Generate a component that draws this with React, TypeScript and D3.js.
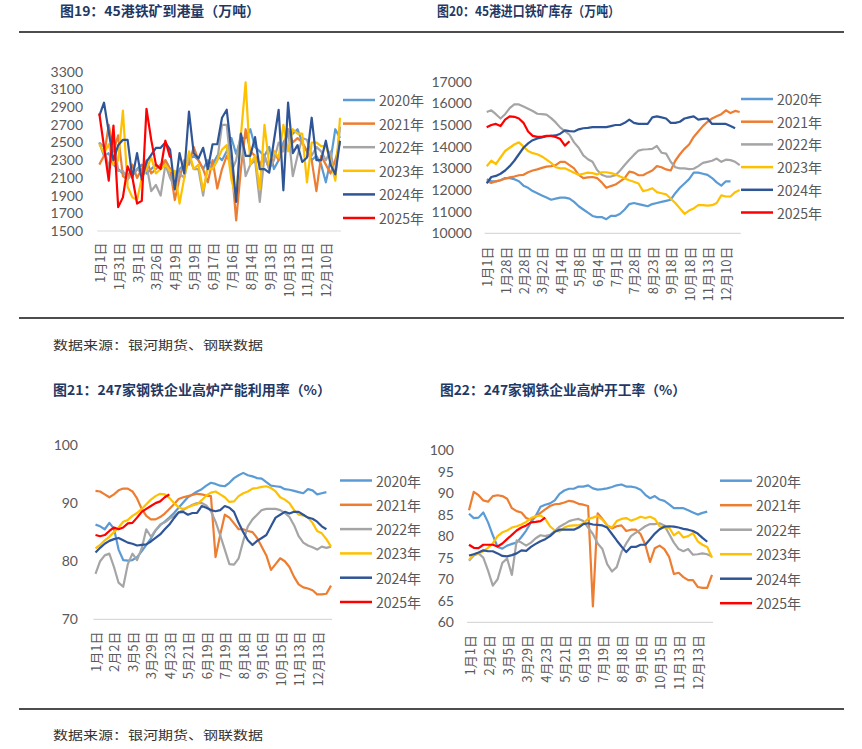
import React, { useRef, useEffect } from "react";
import * as d3 from "d3";

const FONT = "'Noto Sans CJK SC', 'Noto Sans', sans-serif";
const NUM_FONT = "Lato, 'Liberation Sans', sans-serif";

const years = ["2020年", "2021年", "2022年", "2023年", "2024年", "2025年"];
const yearColors = ["#5b9bd5", "#ed7d31", "#a5a5a5", "#ffc000", "#2f5597", "#ff0000"];

// 图19 45港铁矿到港量（万吨）
const arrivalTicks = ["1月1日", "1月31日", "3月1日", "3月26日", "4月19日", "5月19日", "6月17日", "7月16日", "8月14日", "9月13日", "10月13日", "11月11日", "12月10日"];
const arrivalYTicks = [1500, 1700, 1900, 2100, 2300, 2500, 2700, 2900, 3100, 3300];
const arrival2020 = [2500, 2350, 2380, 2250, 2200, 2150, 2150, 2120, 2200, 2250, 2150, 2200, 2250, 2200, 2300, 2200, 2000, 2200, 2250, 2300, 2350, 2300, 2200, 2300, 2250, 2350, 2300, 2400, 2550, 2370, 2550, 2550, 2650, 2450, 2400, 2350, 2450, 2200, 2300, 2500, 2600, 2600, 2650, 2500, 2400, 2300, 2350, 2250, 2050, 2300, 2650, 2550];
const arrival2021 = [2250, 2350, 2700, 2400, 2580, 2120, 2080, 2250, 2100, 2200, 2300, 2150, 2200, 2250, 2300, 2200, 1850, 2100, 2300, 2250, 2450, 2300, 2200, 2050, 2300, 1980, 2200, 2350, 2250, 1620, 2200, 2650, 2400, 2350, 2250, 2350, 2200, 2400, 2300, 2450, 2650, 2500, 2550, 2500, 2400, 2300, 1950, 2350, 2250, 2150, 2300, 2500];
const arrival2022 = [2500, 2450, 2200, 2580, 2180, 2180, 2080, 2150, 2200, 2150, 2250, 1950, 2020, 1900, 2250, 2100, 2000, 2150, 2100, 2350, 2200, 2200, 1900, 2250, 2200, 2300, 2700, 2700, 2170, 2300, 2600, 2120, 2250, 2300, 1830, 2350, 2200, 2300, 2500, 2400, 2650, 2120, 2350, 2550, 2530, 2350, 2450, 2400, 2300, 2400, 2100, 2680];
const arrival2023 = [2480, 2380, 2480, 2250, 2300, 2860, 2000, 1880, 1850, 2100, 2200, 2330, 2150, 2200, 2250, 2180, 2180, 1810, 2100, 2400, 2200, 2250, 1960, 2200, 2200, 2300, 2420, 2470, 2080, 1870, 2580, 3180, 2250, 2350, 1970, 2700, 2250, 2400, 2330, 2700, 2400, 2650, 2600, 2600, 2050, 2500, 2500, 2460, 2460, 2300, 2070, 2780];
const arrival2024 = [2800, 2950, 2620, 2300, 2470, 2530, 2530, 2100, 2380, 2080, 2280, 2360, 2440, 2440, 2500, 2420, 1970, 2380, 2150, 2850, 2380, 2320, 2440, 2200, 2480, 2480, 2780, 2870, 2400, 1830, 2600, 2350, 2350, 2560, 2200, 2200, 2160, 2520, 2870, 1960, 2950, 2380, 2470, 2280, 2330, 2780, 2300, 2300, 2520, 2250, 2140, 2520];
const arrival2025 = [2830, 2450, 2070, 2690, 1770, 1880, 2230, 2110, 1810, 1840, 2880, 2530, 2250, 2200, 2520, 2330];

// 图20 45港进口铁矿库存（万吨）
const stockTicks = ["1月1日", "1月28日", "2月28日", "3月22日", "4月14日", "5月8日", "6月4日", "7月1日", "7月28日", "8月23日", "9月18日", "10月18日", "11月13日", "12月10日"];
const stockYTicks = [10000, 11000, 12000, 13000, 14000, 15000, 16000, 17000];
const stock2020 = [12500, 12400, 12400, 12450, 12550, 12550, 12500, 12400, 12200, 12100, 11950, 11850, 11750, 11650, 11550, 11600, 11650, 11650, 11600, 11450, 11250, 11100, 10950, 10800, 10750, 10750, 10650, 10800, 10800, 10900, 11100, 11350, 11400, 11350, 11300, 11250, 11350, 11400, 11450, 11500, 11550, 11850, 12100, 12300, 12500, 12800, 12800, 12750, 12700, 12550, 12350, 12200, 12400, 12400];
const stock2021 = [12400, 12330, 12400, 12450, 12520, 12580, 12620, 12680, 12700, 12820, 12900, 12950, 13020, 13080, 13100, 13150, 13300, 13300, 13150, 13000, 12700, 12550, 12580, 12600, 12550, 12350, 12100, 12180, 12250, 12400, 12550, 12850, 12800, 12680, 12680, 12800, 12900, 13100, 13050, 12950, 12900, 13350, 13650, 13900, 14100, 14450, 14700, 14950, 15150, 15300, 15400, 15500, 15680, 15550, 15650, 15600];
const stock2022 = [15600, 15680, 15500, 15300, 15500, 15780, 15950, 15950, 15850, 15750, 15650, 15520, 15500, 15480, 15320, 15120, 14880, 14720, 14550, 14200, 13950, 13600, 13420, 13300, 12920, 12700, 12620, 12620, 12680, 12900, 13150, 13400, 13620, 13820, 13870, 13880, 13900, 14030, 13720, 13680, 13300, 13050, 13000, 13000, 12960, 12980, 13100, 13250, 13300, 13350, 13450, 13300, 13400, 13380, 13300, 13150];
const stock2023 = [13100, 13350, 13200, 13500, 13800, 13950, 14100, 14200, 14000, 13800, 13700, 13650, 13550, 13400, 13250, 13050, 13000, 13000, 12900, 12800, 12700, 12750, 12800, 12780, 12720, 12820, 12820, 12780, 12720, 12620, 12530, 12450, 12380, 12300, 11950, 12000, 12080, 11900, 11850, 11800, 11600, 11400, 11150, 10900, 11050, 11150, 11300, 11300, 11280, 11300, 11400, 11750, 11700, 11700, 11900, 12000];
const stock2024 = [12300, 12600, 12650, 12750, 12900, 13100, 13350, 13650, 13950, 14150, 14300, 14380, 14430, 14480, 14500, 14520, 14600, 14750, 14720, 14700, 14800, 14850, 14870, 14900, 14900, 14900, 14900, 14950, 15000, 15000, 15100, 15250, 15100, 15050, 15050, 15050, 15350, 15400, 15350, 15300, 15100, 15100, 15150, 15300, 15350, 15400, 15250, 15280, 15300, 15050, 15050, 15050, 15050, 14950, 14850];
const stock2025 = [14900, 15000, 15050, 14950, 15250, 15400, 15380, 15300, 15100, 14700, 14500, 14450, 14450, 14500, 14500, 14450, 14350, 14050, 14250];

// 图21 / 图22 shared date labels
const blastTicks = ["1月1日", "2月2日", "3月5日", "3月29日", "4月23日", "5月21日", "6月19日", "7月19日", "8月18日", "9月16日", "10月15日", "11月13日", "12月13日"];

// 图21 247家钢铁企业高炉产能利用率（%）
const utilYTicks = [70, 80, 90, 100];
const util2020 = [86.3, 86, 85.5, 86.6, 85.6, 82, 80.2, 80.1, 80.2, 80.7, 81.7, 82.8, 83.9, 85.3, 86.2, 86.8, 87.5, 88.3, 89.2, 90.1, 91, 91.5, 92, 92.4, 93, 93.5, 93.3, 93, 92.9, 93.5, 94.3, 94.8, 95.2, 94.8, 94.6, 94.3, 94.2, 93.6, 93, 92.9, 92.8, 92.4, 92.3, 92.1, 91.9, 91.7, 92.4, 92.2, 91.5, 91.7, 91.9];
const util2021 = [92.1, 92, 91.5, 91, 91.5, 92.2, 92.5, 92.5, 92, 90.8, 89, 87.8, 87.2, 87.2, 87.6, 88.2, 89, 89.8, 90.7, 91, 91.2, 91.4, 91.6, 91.5, 91.3, 91.2, 80.7, 84.5, 88, 87.5, 86.5, 85.5, 85.5, 85.2, 85, 84, 82.5, 81, 78.5, 79.5, 80.5, 80, 79, 77.3, 76, 75.5, 75.3, 75, 74.3, 74.3, 74.4, 75.8];
const util2022 = [77.8, 80, 81, 81.3, 79, 76.3, 75.6, 79.5, 81.3, 80.2, 82.2, 85.5, 84.2, 85.3, 86.3, 86.7, 87.3, 87.8, 88.4, 88.8, 89.3, 89.7, 90, 90, 89.6, 88.6, 86.8, 84.5, 82, 79.5, 79.4, 80.5, 83.5, 86, 87.2, 88, 88.8, 89, 89, 89, 88.8, 88.3, 87.6, 86.2, 84.3, 83.2, 82.7, 82.4, 82, 82.5, 82.3, 82.5];
const util2023 = [82.2, 82.8, 83.6, 84.2, 85, 85.8, 86.8, 87.1, 87.8, 88.3, 89, 89.8, 90.6, 91.2, 91.6, 91.5, 90.9, 90, 89.3, 89, 89.3, 89.6, 89.8, 90.5, 91.3, 91.8, 92, 91.5, 91, 90.2, 90.3, 91.2, 91.7, 92, 92.5, 92.6, 92.8, 92.9, 92.6, 92, 91, 90.6, 90, 88.8, 88, 87.9, 87.5, 86.6, 85.2, 84.8, 83.8, 82.5];
const util2024 = [81.5, 82.3, 83, 83.5, 83.8, 84, 83.6, 83.2, 83, 82.7, 82.8, 82.9, 83.4, 84, 84.6, 85.5, 86.3, 87.4, 88.4, 88.5, 88, 88.3, 88.3, 89.5, 89.2, 88.8, 88.6, 88.8, 89.5, 89.2, 88.5, 86.6, 85, 83.6, 82.8, 83.5, 84, 84.5, 86, 87.5, 88, 88.5, 88.2, 88.5, 88.5, 88, 87.5, 87.3, 86.8, 86, 85.5];
const util2025 = [84.5, 84.3, 84.5, 85.2, 85.8, 85.5, 85.8, 86.5, 86.6, 87.5, 88.5, 89, 89.5, 90, 90.3, 91, 91.5];

// 图22 247家钢铁企业高炉开工率（%）
const rateYTicks = [60, 65, 70, 75, 80, 85, 90, 95, 100];
const rate2020 = [85.2, 84.2, 84.3, 85.5, 83.2, 80.2, 77.5, 77.1, 77.8, 78.2, 78.5, 79.8, 81.3, 83.2, 84.7, 86.8, 87.3, 87.6, 88.3, 89.8, 90.6, 91, 91, 91.5, 91.5, 91.8, 91.1, 90.8, 90.9, 91.1, 91.4, 91.8, 92, 91.5, 91.5, 91.3, 90.8, 89.6, 88.8, 89.3, 88.5, 88.2, 87.4, 86.5, 86.5, 86.5, 86, 85.5, 85, 85.4, 85.7];
const rate2021 = [86, 90.3, 89.5, 88.3, 88, 89.3, 89.5, 89.3, 88.7, 86.5, 85.8, 85.5, 84.2, 83.8, 84.5, 85.4, 86.2, 87, 87.4, 87.5, 87.8, 88.2, 88, 87.5, 87.3, 87, 63.7, 85.3, 84, 82.5, 81.8, 82.3, 82.5, 81.2, 81.5, 81.5, 80.5, 78, 74, 77.2, 77.8, 77, 75.2, 71.2, 71.5, 70.5, 69.8, 69.8, 68.2, 68, 68, 71];
const rate2022 = [74.3, 75.5, 76, 75, 72, 68.5, 70, 73.8, 74.8, 71, 79, 78.5, 77.8, 78.5, 79.5, 80.2, 80, 80.3, 81.2, 82.2, 82.8, 83.5, 83.8, 84, 83.5, 82, 80.5, 78.3, 77, 73.5, 71.8, 72.8, 76.3, 78.3, 80, 80.8, 81.5, 82.3, 82.8, 82.8, 83, 82.5, 80.5, 78.5, 77, 76.5, 77, 75.7, 75.8, 76, 75.8, 75.3];
const rate2023 = [74.5, 75.8, 76, 76.5, 77.3, 78.3, 80, 80.9, 81.3, 82, 82.3, 82.7, 83.3, 84.2, 84.6, 84.8, 84, 82.3, 81.3, 81.1, 82, 82.4, 82.5, 82.5, 83, 84, 84.3, 84.7, 83.8, 82.5, 82, 83.5, 84, 84.2, 83.6, 84, 84.5, 84.2, 84.5, 84, 82.3, 82, 82, 80.2, 81, 79.7, 80, 80.7, 78.8, 78, 77.5, 75];
const rate2024 = [75.5, 75.8, 76.2, 76.7, 76.5, 76.5, 76, 75.4, 75.3, 75.6, 76, 76.7, 76.6, 77.5, 78.2, 78.8, 79.3, 80, 81, 81.5, 81.5, 81.5, 81.5, 82, 82.8, 83, 82.7, 82.6, 82.5, 82, 80.5, 79, 77.6, 76.3, 77.5, 77.5, 78, 78, 79.3, 80.6, 81.6, 82.2, 82.3, 82.2, 82, 81.7, 81.5, 81.2, 80.6, 79.6, 78.7];
const rate2025 = [78, 77.3, 77.2, 78, 78, 78, 77.6, 78.3, 79.3, 80.3, 81.3, 82, 82.5, 83.2, 83.3, 83.5, 84.3];

interface ChartSpec {
  count: number; // weekly categories on the axis
  tickEvery: number;
  ticks: string[];
  yTicks: number[];
  series: number[][];
  x0: number; x1: number; // first / last category
  yTop: number; yBottom: number;
  yLabelX: number;
  xLabelTop: number;
  legendX: number; legendY: number; legendGap: number;
}

const charts: ChartSpec[] = [
  {
    count: 52, tickEvery: 4, ticks: arrivalTicks, yTicks: arrivalYTicks,
    series: [arrival2020, arrival2021, arrival2022, arrival2023, arrival2024, arrival2025],
    x0: 99.3, x1: 340, yTop: 71.7, yBottom: 231, yLabelX: 83, xLabelTop: 242.5,
    legendX: 343, legendY: 100, legendGap: 23.6,
  },
  {
    count: 56, tickEvery: 4, ticks: stockTicks, yTicks: stockYTicks,
    series: [stock2020, stock2021, stock2022, stock2023, stock2024, stock2025],
    x0: 486.7, x1: 739.7, yTop: 81.7, yBottom: 233.3, yLabelX: 472, xLabelTop: 246.5,
    legendX: 741, legendY: 99, legendGap: 22.7,
  },
  {
    count: 52, tickEvery: 4, ticks: blastTicks, yTicks: utilYTicks,
    series: [util2020, util2021, util2022, util2023, util2024, util2025],
    x0: 95.5, x1: 331, yTop: 445, yBottom: 619.3, yLabelX: 78, xLabelTop: 631.5,
    legendX: 340, legendY: 480.5, legendGap: 24.3,
  },
  {
    count: 52, tickEvery: 4, ticks: blastTicks, yTicks: rateYTicks,
    series: [rate2020, rate2021, rate2022, rate2023, rate2024, rate2025],
    x0: 469, x1: 712, yTop: 450, yBottom: 622.3, yLabelX: 454, xLabelTop: 635,
    legendX: 720, legendY: 480.7, legendGap: 24.5,
  },
];

const titles = [
  { text: "图19：45港铁矿到港量（万吨）", x: 60, y: 15.5, len: 200 },
  { text: "图20：45港进口铁矿库存（万吨）", x: 437, y: 15.5, len: 183 },
  { text: "图21：247家钢铁企业高炉产能利用率（%）", x: 53, y: 395, len: 278 },
  { text: "图22：247家钢铁企业高炉开工率（%）", x: 440, y: 395, len: 246 },
];

function drawChart(svg: d3.Selection<SVGSVGElement, unknown, null, undefined>, c: ChartSpec) {
  const g = svg.append("g");
  const x = d3.scaleLinear().domain([0, c.count - 1]).range([c.x0, c.x1]);
  const y = d3
    .scaleLinear()
    .domain([c.yTicks[0], c.yTicks[c.yTicks.length - 1]])
    .range([c.yBottom, c.yTop]);

  // baseline
  g.append("line")
    .attr("x1", c.x0 - 2)
    .attr("x2", c.x1 + 1)
    .attr("y1", c.yBottom)
    .attr("y2", c.yBottom)
    .attr("stroke", "#d9d9d9")
    .attr("stroke-width", 1.2);

  // y labels
  g.append("g")
    .attr("transform", `translate(${c.yLabelX},0)`)
    .call(d3.axisLeft(y).tickValues(c.yTicks).tickFormat(d3.format("d")).tickSize(0).tickPadding(0))
    .call((a) => a.select(".domain").remove())
    .selectAll("text")
    .attr("fill", "#595959")
    .style("font-family", NUM_FONT)
    .style("font-size", "14px");

  // x labels (rotated)
  g.selectAll(".xl")
    .data(c.ticks)
    .join("text")
    .attr("transform", (_, i) => `translate(${x(i * c.tickEvery)},${c.xLabelTop}) rotate(-90)`)
    .attr("text-anchor", "end")
    .attr("dominant-baseline", "central")
    .attr("fill", "#595959")
    .style("font-family", FONT)
    .style("font-size", "13px")
    .text((d) => d);

  const line = d3
    .line<number>()
    .x((_, i) => x(i))
    .y((d) => y(d));

  c.series.forEach((s, k) => {
    g.append("path")
      .attr("d", line(s))
      .attr("fill", "none")
      .attr("stroke", yearColors[k])
      .attr("stroke-width", 2.2)
      .attr("stroke-linejoin", "round");
  });

  // legend
  years.forEach((name, k) => {
    const ly = c.legendY + k * c.legendGap;
    g.append("line")
      .attr("x1", c.legendX)
      .attr("x2", c.legendX + 32)
      .attr("y1", ly)
      .attr("y2", ly)
      .attr("stroke", yearColors[k])
      .attr("stroke-width", 2.5);
    g.append("text")
      .attr("x", c.legendX + 36)
      .attr("y", ly)
      .attr("dominant-baseline", "central")
      .attr("fill", "#595959")
      .style("font-family", FONT)
      .style("font-size", "14px")
      .text(name);
  });
}

export default function App() {
  const svgRef = useRef<SVGSVGElement>(null);

  useEffect(() => {
    if (!svgRef.current) return;
    const svg = d3.select(svgRef.current);
    svg.selectAll("*").remove();

    svg.append("rect").attr("width", 862).attr("height", 749).attr("fill", "#fff");

    // section rules
    [32, 318, 709].forEach((ry) => {
      svg.append("line")
        .attr("x1", 19)
        .attr("x2", 844)
        .attr("y1", ry)
        .attr("y2", ry)
        .attr("stroke", "#4d4d4d")
        .attr("stroke-width", 2);
    });

    titles.forEach((t) => {
      svg.append("text")
        .attr("x", t.x)
        .attr("y", t.y)
        .attr("fill", "#1f3864")
        .attr("textLength", t.len)
        .attr("lengthAdjust", "spacingAndGlyphs")
        .style("font-family", FONT)
        .style("font-weight", "bold")
        .style("font-size", "13.5px")
        .text(t.text);
    });

    [350, 740].forEach((sy) => {
      svg.append("text")
        .attr("x", 53)
        .attr("y", sy)
        .attr("fill", "#333")
        .attr("textLength", 210)
        .attr("lengthAdjust", "spacingAndGlyphs")
        .style("font-family", FONT)
        .style("font-size", "12.5px")
        .text("数据来源：银河期货、钢联数据");
    });

    charts.forEach((c) => drawChart(svg, c));
  }, []);

  return (
    <svg
      ref={svgRef}
      width={862}
      height={749}
      style={{ position: "absolute", left: 0, top: 0 }}
    />
  );
}
